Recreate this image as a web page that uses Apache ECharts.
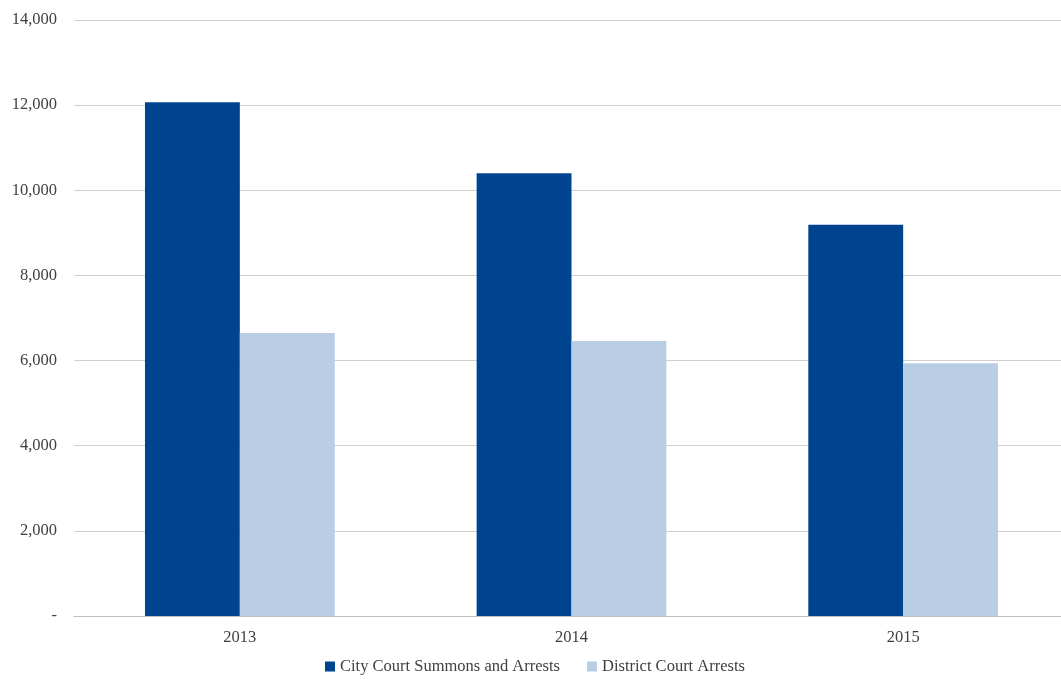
<!DOCTYPE html>
<html>
<head>
<meta charset="utf-8">
<style>
  html, body { margin: 0; padding: 0; background: #fff; overflow: hidden; }
  #chart { width: 1069px; height: 679px; }
</style>
<script src="https://cdn.jsdelivr.net/npm/echarts@6/dist/echarts.min.js"></script>
</head>
<body>
<div id="chart"></div>
<script>
    var years = ['2013', '2014', '2015'];
    var cityCourt = [12070, 10400, 9190];
    var districtCourt = [6650, 6460, 5940];

    // plot runs a few px past the right edge of the window, as in the original
    var myChart = echarts.init(document.getElementById('chart'));
    var font = '"Liberation Serif", "Times New Roman", serif';
    var option = {
        animation: false,
        textStyle: { fontFamily: font },
        grid: { left: 74, right: 0, top: 20, bottom: 63, containLabel: false },
        legend: {
            bottom: -1,
            left: 320,
            itemWidth: 10,
            itemHeight: 10,
            itemGap: 27,
            icon: 'rect',
            textStyle: { fontFamily: font, fontSize: 16.5, color: '#404040' },
            data: ['City Court Summons and Arrests', 'District Court Arrests']
        },
        xAxis: {
            type: 'category',
            data: years,
            axisTick: { show: false },
            axisLine: { lineStyle: { color: '#bfbfbf' } },
            axisLabel: { fontFamily: font, fontSize: 16.5, color: '#404040', margin: 13 }
        },
        yAxis: {
            type: 'value',
            min: 0,
            max: 14000,
            interval: 2000,
            axisLine: { show: false },
            axisTick: { show: false },
            splitLine: { lineStyle: { color: '#d0d0d0' } },
            axisLabel: {
                fontFamily: font, fontSize: 16.5, color: '#404040', margin: 17,
                formatter: function (v) { return v === 0 ? '-' : v.toLocaleString('en-US'); }
            }
        },
        series: [
            {
                name: 'City Court Summons and Arrests',
                type: 'bar',
                barWidth: '28.6%',
                barGap: '0%',
                itemStyle: { color: '#00438f' },
                data: cityCourt
            },
            {
                name: 'District Court Arrests',
                type: 'bar',
                barWidth: '28.6%',
                itemStyle: { color: '#b9cde5' },
                data: districtCourt
            }
        ]
    };
    myChart.setOption(option);
</script>
</body>
</html>
